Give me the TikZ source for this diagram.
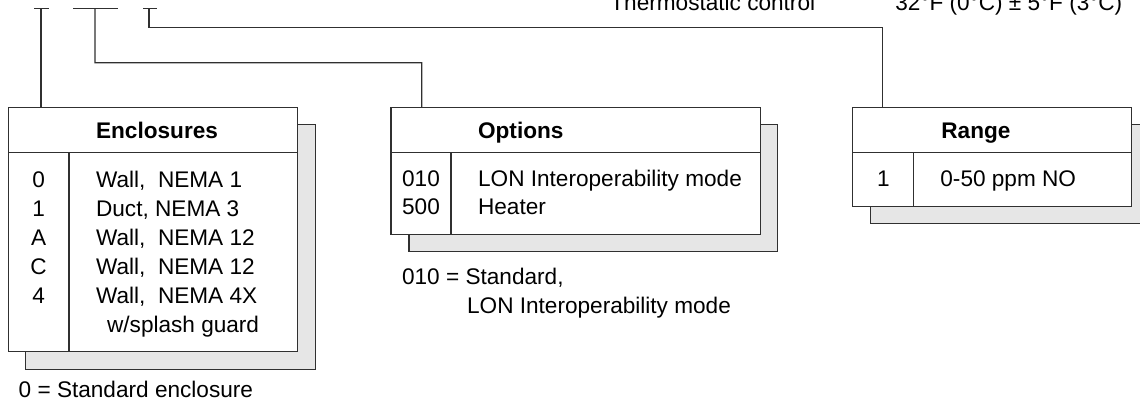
\documentclass[tikz,border=0pt]{standalone}
\usepackage{fontspec}
\setmainfont{Liberation Sans}
\definecolor{lineclr}{HTML}{303030}
\definecolor{shadowfill}{HTML}{E6E6E6}
\begin{document}
\begin{tikzpicture}[x=0.5pt,y=-0.5pt,
  font=\fontsize{11.3}{13}\selectfont,
  box/.style={draw=lineclr, line width=0.75pt, fill=white, inner sep=0pt, outer sep=0pt, anchor=north west},
  shadowbox/.style={draw=lineclr, line width=0.75pt, fill=shadowfill},
  inner/.style={draw=lineclr, line width=0.75pt},
  conn/.style={draw=lineclr, line width=0.6pt},
  txt/.style={inner sep=0pt, anchor=base west},
  code/.style={inner sep=0pt, anchor=base},
  head/.style={inner sep=0pt, anchor=base west, font=\fontsize{11.3}{13}\selectfont\bfseries}]
\useasboundingbox (0,0) rectangle (1140,402);
% top texts
\node[txt] (thermo) at (610,10) {Thermostatic control};
\node[txt] (thermoval) at (895,10) {32°F (0°C) ± 5°F (3°C)};
% tick marks
\coordinate (t1) at (41,8.3);
\coordinate (t2) at (95,8.3);
\coordinate (t3) at (149,8.3);
\draw[conn] (34.3,8.3) -- (49.3,8.3);
\draw[conn] (73.3,8.3) -- (118.3,8.3);
\draw[conn] (143.3,8.3) -- (156.7,8.3);
% shadows
\path[shadowbox] (25.7,124.3) rectangle (315.7,369.3);
\path[shadowbox] (409,124.3) rectangle (777.7,251.7);
\path[shadowbox] (870.7,124.3) rectangle (1150,223.3);
% boxes
\node[box, minimum width=144.7pt, minimum height=122.2pt] (encl) at (8.3,107.3) {};
\node[box, minimum width=184.65pt, minimum height=63.5pt] (opt) at (391,107.3) {};
\node[box, minimum width=139.5pt, minimum height=49.7pt] (rng) at (852.7,107.3) {};
% inner lines
\draw[inner] (8.3,152.3) -- (297.7,152.3);
\draw[inner] (69,152.3) -- (69,351.7);
\draw[inner] (391,152.3) -- (760.3,152.3);
\draw[inner] (451,152.3) -- (451,234.3);
\draw[inner] (852.7,152.3) -- (1131.7,152.3);
\draw[inner] (913.3,152.3) -- (913.3,206.7);
% connectors
\draw[conn] (t1) -- (t1 |- encl.north);
\draw[conn] (t2) |- (421.7,62.7) -- ([xshift=15.35pt]opt.north west);
\draw[conn] (t3) |- (882.7,27.3) -- ([xshift=15pt]rng.north west);
% Enclosures
\node[head] (enclh) at (95.7,138) {Enclosures};
\node[code] (e0) at (38.6,187) {0};
\node[code] (e1) at (38.6,216) {1};
\node[code] (e2) at (38.6,245) {A};
\node[code] (e3) at (38.6,274) {C};
\node[code] (e4) at (38.6,303) {4};
\node[txt] (d0) at (95.7,187) {Wall,\ \ NEMA 1};
\node[txt] (d1) at (95.7,216) {Duct, NEMA 3};
\node[txt] (d2) at (95.7,245) {Wall,\ \ NEMA 12};
\node[txt] (d3) at (95.7,274) {Wall,\ \ NEMA 12};
\node[txt] (d4) at (95.7,303) {Wall,\ \ NEMA 4X};
\node[txt] (d5) at (106.7,332) {w/splash guard};
\node[txt] (enote) at (18.3,397) {0 = Standard enclosure};
% Options
\node[head] (opth) at (477.7,138) {Options};
\node[code] (o0) at (421,186) {010};
\node[code] (o1) at (421,214.5) {500};
\node[txt] (od0) at (477.7,186) {LON Interoperability mode};
\node[txt] (od1) at (477.7,214.5) {Heater};
\node[txt] (onote1) at (401.7,284) {010 = Standard,};
\node[txt] (onote2) at (466.7,313) {LON Interoperability mode};
% Range
\node[head] (rngh) at (941,138) {Range};
\node[code] (r0) at (883.3,186) {1};
\node[txt] (rd0) at (940,186) {0-50 ppm NO};
\end{tikzpicture}
\end{document}
